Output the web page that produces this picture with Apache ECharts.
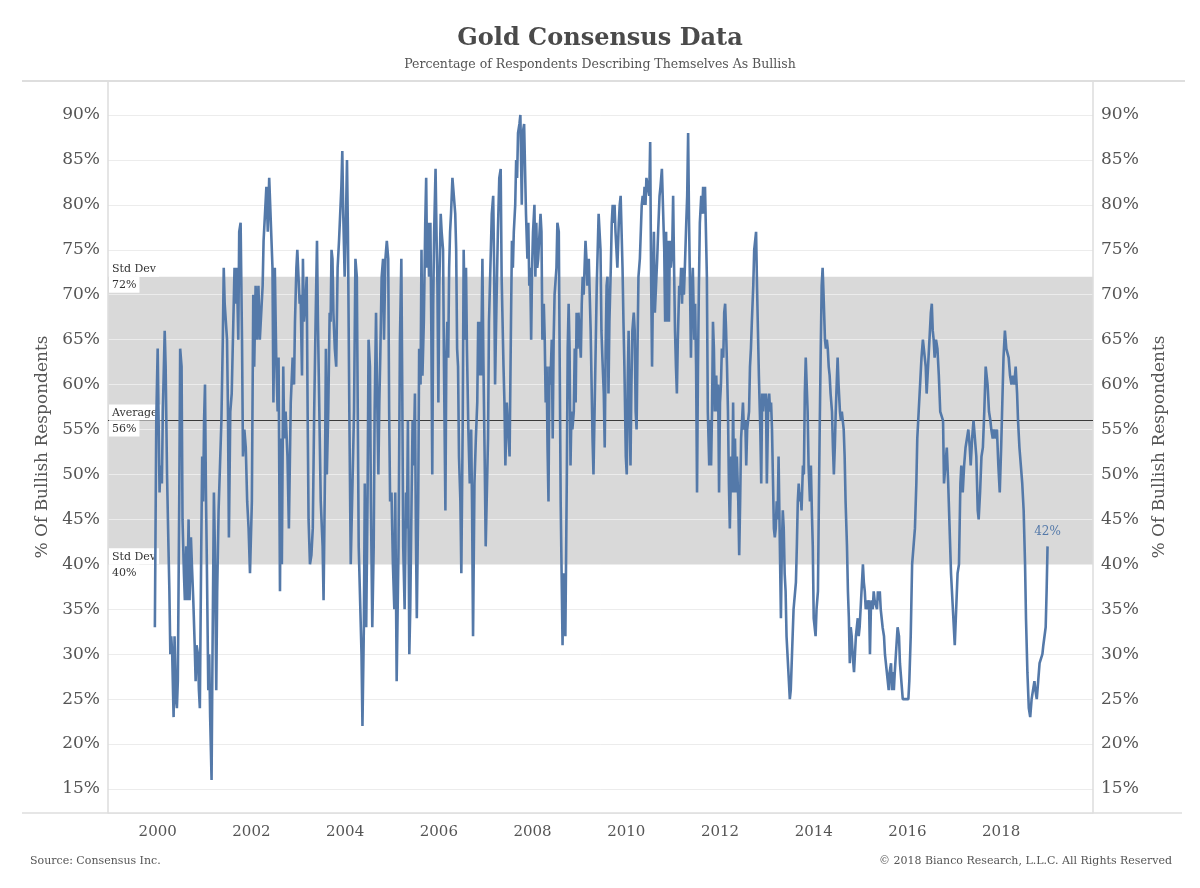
<!DOCTYPE html>
<html><head><meta charset="utf-8">
<script src="https://cdn.jsdelivr.net/npm/echarts/dist/echarts.min.js"></script>
<style>html,body{margin:0;padding:0;background:#fff}#c{width:1200px;height:888px}</style>
</head><body><div id="c"></div>
<script>
// ---- data (decimal year, % bullish) ----
const dates = [
1999.94,1999.97,2000.00,2000.02,2000.04,2000.06,2000.09,2000.11,2000.15,2000.17,2000.20,2000.23,2000.25,2000.27,2000.29,2000.31,2000.34,2000.36,2000.39,2000.41,2000.43,2000.46,2000.48,2000.51,2000.53,2000.56,2000.58,2000.61,2000.63,2000.66,2000.68,2000.71,2000.73,2000.76,2000.79,2000.81,2000.83,2000.86,2000.88,2000.90,2000.93,2000.95,2000.97,2000.99,
2001.01,2001.03,2001.05,2001.08,2001.10,2001.12,2001.15,2001.17,2001.20,2001.22,2001.25,2001.27,2001.30,2001.33,2001.36,2001.39,2001.41,2001.43,2001.45,2001.48,2001.50,2001.52,2001.55,2001.58,2001.61,2001.64,2001.67,2001.69,2001.72,2001.74,2001.77,2001.80,2001.82,2001.85,2001.88,2001.91,2001.94,2001.97,
2002.01,2002.04,2002.06,2002.09,2002.12,2002.15,2002.18,2002.21,2002.24,2002.26,2002.29,2002.32,2002.35,2002.38,2002.45,2002.47,2002.50,2002.53,2002.56,2002.58,2002.61,2002.63,2002.65,2002.68,2002.70,2002.73,2002.77,2002.80,2002.84,2002.88,2002.91,2002.93,2002.96,2002.98,
2003.01,2003.03,2003.05,2003.08,2003.10,2003.12,2003.15,2003.18,2003.20,2003.22,2003.25,2003.28,2003.31,2003.34,2003.37,2003.40,2003.42,2003.45,2003.48,2003.52,2003.54,2003.57,2003.59,2003.61,2003.64,2003.67,2003.69,2003.71,2003.73,2003.75,2003.78,2003.81,2003.84,2003.87,2003.89,2003.92,2003.94,2003.96,2003.99,
2004.02,2004.04,2004.06,2004.09,2004.12,2004.15,2004.17,2004.19,2004.22,2004.25,2004.27,2004.29,2004.32,2004.35,2004.37,2004.40,2004.42,2004.45,2004.48,2004.50,2004.53,2004.55,2004.58,2004.61,2004.63,2004.66,2004.68,2004.71,2004.73,2004.75,2004.78,2004.81,2004.83,2004.86,2004.89,2004.92,2004.94,2004.96,2004.99,
2005.02,2005.05,2005.07,2005.10,2005.14,2005.17,2005.20,2005.22,2005.24,2005.27,2005.30,2005.32,2005.34,2005.37,2005.39,2005.42,2005.44,2005.46,2005.49,2005.51,2005.53,2005.56,2005.58,2005.61,2005.63,2005.65,2005.68,2005.71,2005.73,2005.75,2005.77,2005.79,2005.82,2005.84,2005.86,2005.88,2005.90,2005.93,2005.95,2005.97,2005.99,
2006.01,2006.04,2006.06,2006.09,2006.11,2006.14,2006.16,2006.18,2006.20,2006.22,2006.24,2006.26,2006.29,2006.32,2006.35,2006.37,2006.39,2006.41,2006.43,2006.46,2006.48,2006.51,2006.53,2006.56,2006.58,2006.60,2006.63,2006.66,2006.69,2006.71,2006.73,2006.76,2006.79,2006.82,2006.84,2006.86,2006.88,2006.90,2006.93,2006.95,2006.98,
2007.00,2007.02,2007.05,2007.07,2007.10,2007.13,2007.16,2007.18,2007.20,2007.23,2007.26,2007.29,2007.32,2007.34,2007.36,2007.38,2007.40,2007.42,2007.45,2007.48,2007.51,2007.54,2007.56,2007.58,2007.60,2007.63,2007.65,2007.67,2007.69,2007.72,2007.74,2007.77,2007.79,2007.82,2007.84,2007.86,2007.89,2007.91,2007.93,2007.95,2007.97,2007.99,
2008.01,2008.04,2008.06,2008.08,2008.10,2008.12,2008.15,2008.17,2008.19,2008.21,2008.24,2008.26,2008.28,2008.30,2008.32,2008.34,2008.36,2008.38,2008.41,2008.43,2008.45,2008.47,2008.49,2008.51,2008.53,2008.56,2008.58,2008.60,2008.62,2008.64,2008.66,2008.68,2008.70,2008.73,2008.75,2008.77,2008.79,2008.81,2008.83,2008.85,2008.88,2008.90,2008.92,2008.94,2008.96,2008.98,
2009.00,2009.03,2009.05,2009.07,2009.09,2009.11,2009.13,2009.15,2009.17,2009.20,2009.22,2009.24,2009.26,2009.28,2009.30,2009.32,2009.35,2009.37,2009.39,2009.41,2009.43,2009.45,2009.47,2009.49,2009.52,2009.54,2009.56,2009.58,2009.60,2009.62,2009.64,2009.67,2009.69,2009.71,2009.73,2009.75,2009.77,2009.79,2009.81,2009.84,2009.86,2009.88,2009.90,2009.92,2009.94,2009.96,2009.99,
2010.01,2010.03,2010.05,2010.07,2010.09,2010.11,2010.13,2010.16,2010.18,2010.20,2010.22,2010.24,2010.26,2010.29,2010.31,2010.33,2010.35,2010.37,2010.39,2010.41,2010.43,2010.46,2010.49,2010.51,2010.53,2010.55,2010.57,2010.59,2010.61,2010.63,2010.66,2010.68,2010.71,2010.73,2010.76,2010.78,2010.81,2010.83,2010.85,2010.87,2010.89,2010.91,2010.93,2010.95,2010.98,
2011.00,2011.02,2011.04,2011.06,2011.08,2011.10,2011.13,2011.15,2011.17,2011.19,2011.21,2011.23,2011.25,2011.28,2011.30,2011.32,2011.34,2011.36,2011.38,2011.40,2011.42,2011.45,2011.47,2011.49,2011.51,2011.53,2011.55,2011.57,2011.60,2011.62,2011.64,2011.66,2011.68,2011.70,2011.72,2011.74,2011.77,2011.79,2011.81,2011.83,2011.85,2011.87,2011.89,2011.92,2011.94,2011.96,2011.98,
2012.00,2012.02,2012.04,2012.07,2012.09,2012.11,2012.13,2012.15,2012.17,2012.19,2012.21,2012.24,2012.26,2012.28,2012.30,2012.32,2012.34,2012.36,2012.39,2012.41,2012.43,2012.45,2012.47,2012.49,2012.51,2012.54,2012.56,2012.58,2012.60,2012.62,2012.64,2012.66,2012.68,2012.71,2012.73,2012.75,2012.77,2012.79,2012.81,2012.83,2012.86,2012.88,2012.90,2012.92,2012.94,2012.96,2012.98,
2013.00,2013.03,2013.05,2013.07,2013.09,2013.11,2013.15,2013.17,2013.19,2013.21,2013.23,2013.25,2013.28,2013.30,2013.32,2013.34,2013.36,2013.38,2013.40,2013.42,2013.45,2013.47,2013.49,2013.51,2013.53,2013.55,2013.57,2013.60,2013.62,2013.64,2013.66,2013.68,2013.70,2013.72,2013.74,2013.77,2013.79,2013.81,2013.83,2013.85,2013.87,2013.89,2013.92,2013.94,2013.96,2013.98,
2014.00,2014.02,2014.04,2014.06,2014.09,2014.11,2014.13,2014.15,2014.17,2014.19,2014.21,2014.24,2014.26,2014.28,2014.30,2014.32,2014.34,2014.36,2014.39,2014.41,2014.43,2014.45,2014.47,2014.49,2014.51,2014.53,2014.56,2014.58,2014.60,2014.62,2014.64,2014.66,2014.68,2014.71,2014.73,2014.75,2014.77,2014.79,2014.81,2014.83,2014.86,2014.88,2014.90,2014.92,2014.94,2014.96,2014.98,
2015.01,2015.03,2015.05,2015.07,2015.09,2015.11,2015.13,2015.15,2015.18,2015.20,2015.22,2015.24,2015.26,2015.28,2015.30,2015.33,2015.35,2015.37,2015.39,2015.41,2015.43,2015.45,2015.47,2015.50,2015.52,2015.54,2015.56,2015.58,2015.60,2015.62,2015.65,2015.67,2015.69,2015.71,2015.73,2015.79,2015.82,2015.84,2015.87,2015.90,2015.93,2015.96,2015.99,
2016.02,2016.04,2016.07,2016.10,2016.13,2016.16,2016.19,2016.21,2016.24,2016.27,2016.30,2016.33,2016.36,2016.39,2016.41,2016.44,2016.47,2016.50,2016.52,2016.54,2016.56,2016.58,2016.61,2016.64,2016.67,2016.70,2016.73,2016.76,2016.78,2016.81,2016.84,2016.87,2016.90,2016.93,2016.95,2016.98,
2017.01,2017.04,2017.07,2017.10,2017.13,2017.15,2017.18,2017.21,2017.24,2017.27,2017.30,2017.33,2017.35,2017.38,2017.41,2017.44,2017.47,2017.50,2017.52,2017.55,2017.58,2017.61,2017.64,2017.67,2017.70,2017.71,2017.74,2017.77,2017.79,2017.82,2017.85,2017.88,2017.91,2017.94,2017.97,
2018.00,2018.02,2018.05,2018.08,2018.11,2018.14,2018.16,2018.19,2018.22,2018.25,2018.28,2018.31,2018.34,2018.36,2018.39,2018.42,2018.45,2018.48,2018.51,2018.53,2018.56,2018.59,2018.62,2018.65,2018.68,2018.71,2018.73,2018.76,2018.79,2018.82,2018.85,2018.88,2018.90,2018.93,2018.95,2018.97,2018.99
];
const values = [
33,56,64,64,48,51,49,57,66,62,50,42,37,30,32,30,23,32,25,24,27,47,64,62,45,39,36,42,36,45,36,43,40,36,31,27,31,30,26,24,42,52,47,56,
60,48,40,26,30,23,16,30,48,42,26,37,46,51,56,65,73,69,69,65,57,43,57,59,66,73,69,73,65,77,78,65,52,55,53,47,44,39,
47,70,62,71,65,71,65,68,71,76,76,82,77,83,73,58,73,63,57,63,37,54,40,62,54,57,52,44,58,63,60,67,73,75,
75,69,70,61,74,67,69,72,57,45,40,41,44,57,67,76,67,57,47,42,36,50,64,50,57,68,67,75,74,68,64,62,73,76,76,82,86,79,72,
79,85,77,57,40,40,52,57,74,72,57,42,36,30,22,33,49,33,48,65,62,47,33,42,57,68,60,50,58,63,72,74,65,74,76,74,57,47,48,
40,35,48,27,42,65,74,59,42,35,48,44,56,30,35,48,56,51,59,44,34,47,64,60,75,61,67,78,83,73,78,72,78,66,50,69,77,84,77,71,58,
71,79,77,75,62,46,63,67,63,73,77,79,83,83,79,75,64,62,52,47,39,56,75,65,73,64,55,49,55,46,32,49,54,58,67,61,67,61,74,63,51,
42,42,54,67,73,79,81,73,60,69,77,83,84,72,72,62,58,51,58,58,52,67,76,73,77,80,85,83,88,89,90,80,88,89,89,79,74,78,71,73,65,73,
77,80,72,78,73,74,77,79,77,65,69,65,58,62,53,47,62,60,65,54,65,70,70,73,78,77,62,47,39,31,39,38,32,49,64,69,64,51,57,55,57,64,58,68,64,68,
68,63,69,72,70,73,76,74,71,74,70,66,60,54,50,56,65,71,75,79,77,75,66,63,59,53,64,71,72,59,67,73,78,80,78,80,77,75,73,78,80,81,81,73,67,62,52,
50,60,66,57,51,60,66,68,66,57,55,64,72,74,77,80,81,80,82,80,83,82,81,87,72,62,71,77,68,68,74,77,81,82,84,84,75,67,77,67,76,67,76,73,75,
81,73,66,62,59,65,71,70,73,69,73,70,73,78,81,88,78,71,63,70,73,65,69,62,48,62,71,78,81,79,82,79,82,82,72,57,51,56,51,57,67,64,57,61,57,60,48,
58,60,64,63,68,69,66,62,57,49,44,52,48,58,48,54,48,52,47,41,47,54,54,58,55,56,51,55,56,57,62,64,67,71,75,75,77,71,66,61,55,49,59,57,59,58,59,
49,58,59,57,58,55,44,43,44,47,45,52,52,34,42,46,44,39,37,32,29,27,25,26,29,32,35,35,38,42,47,49,47,48,46,51,50,59,63,63,57,51,47,51,46,42,
34,33,32,35,37,47,56,64,71,73,70,65,64,65,64,62,61,59,57,53,50,53,57,60,63,60,57,56,57,56,55,52,47,42,37,34,29,33,32,30,28,30,32,33,34,32,33,
36,38,40,38,37,35,36,35,36,30,35,36,35,37,36,36,35,37,36,37,35,34,33,32,30,29,28,27,26,28,29,26,28,26,28,33,32,29,27,25,25,25,25,
25,27,32,40,42,44,49,54,57,60,63,65,65,62,59,62,65,68,69,66,65,63,65,64,61,57,57,56,49,49,53,49,44,39,37,34,
31,35,39,40,49,51,48,51,53,54,55,53,51,54,56,54,52,46,45,48,52,53,57,62,62,60,57,56,55,54,55,54,55,51,48,
53,57,63,66,64,64,63,61,60,61,60,62,59,56,53,51,49,46,40,34,28,24,23,25,26,27,26,25,27,29,29,30,31,31,33,37,42
];
const yTickValues = [15,20,25,30,35,40,45,50,55,60,65,70,75,80,85,90];
const xTickYears = [2000,2002,2004,2006,2008,2010,2012,2014,2016,2018];
const stdDevLow = 40, stdDevHigh = 72, averageValue = 56;

const FONT = 'DejaVu Serif';
const TXT = '#555555';
const LINE = '#5479a9';

const n = Math.min(dates.length, values.length);
const seriesData = [];
for (let i = 0; i < n; i++) seriesData.push([dates[i], values[i]]);

const HIDDEN = {color: 'rgba(0,0,0,0)', width: 0};
const refLabel = (txt, pos) => ({
  show: true, position: pos, formatter: txt, color: '#333', fontFamily: FONT, fontSize: 11,
  backgroundColor: '#ffffff', padding: [3, 3, 2, 3], distance: [1, 0]
});

const yAxisBase = (pos) => ({
  type: 'value', position: pos, min: 12.33, max: 93.78, minInterval: 5, maxInterval: 5,
  z: 3,
  name: '% Of Bullish Respondents', nameLocation: 'middle', nameGap: pos === 'left' ? 56 : 58,
  nameTextStyle: {fontFamily: FONT, fontSize: 17, color: TXT},
  axisLine: {show: true, lineStyle: {color: '#dcdcdc', width: 1.5}},
  axisTick: {show: false},
  splitLine: {show: true, lineStyle: {color: '#ececec', width: 1}},
  axisLabel: {fontFamily: FONT, fontSize: 17, color: TXT, margin: 8,
    formatter: v => yTickValues.includes(Math.round(v * 100) / 100) ? v + '%' : ''}
});

const option = {
  animation: false,
  backgroundColor: '#ffffff',
  title: [
    {text: 'Gold Consensus Data', left: 'center', top: 22,
     textStyle: {fontFamily: FONT, fontWeight: 'bold', fontSize: 24, color: '#4a4a4a'}},
    {text: 'Percentage of Respondents Describing Themselves As Bullish', left: 'center', top: 53,
     textStyle: {fontFamily: FONT, fontWeight: 'normal', fontSize: 12.5, color: TXT}}
  ],
  grid: {left: 108, right: 107, top: 81, bottom: 75},
  xAxis: {
    type: 'value', min: 1998.94, max: 2019.96, minInterval: 2, maxInterval: 2,
    axisLine: {show: false}, axisTick: {show: false}, splitLine: {show: false},
    axisLabel: {fontFamily: FONT, fontSize: 15, color: TXT, margin: 12,
      formatter: v => xTickYears.includes(Math.round(v * 100) / 100) ? String(Math.round(v)) : ''}
  },
  yAxis: [yAxisBase('left'), yAxisBase('right')],
  graphic: [
    {type: 'line', shape: {x1: 22, y1: 81, x2: 1185, y2: 81}, style: {stroke: '#dedede', lineWidth: 2}, z: 10},
    {type: 'line', shape: {x1: 22, y1: 813, x2: 1182, y2: 813}, style: {stroke: '#dedede', lineWidth: 1.5}, z: 10},
    {type: 'text', left: 30, top: 856, style: {text: 'Source: Consensus Inc.', font: '11px "DejaVu Serif"', fill: TXT}},
    {type: 'text', right: 28, top: 856, style: {text: '\u00a9 2018 Bianco Research, L.L.C. All Rights Reserved', font: '11px "DejaVu Serif"', fill: TXT}}
  ],
  series: [
    {
      name: 'band', type: 'line', data: [], z: 1, silent: true,
      markArea: {silent: true, itemStyle: {color: '#d9d9d9'},
        data: [[{yAxis: stdDevLow}, {yAxis: stdDevHigh}]]}
    },
    {
      name: 'bullish', type: 'line', data: seriesData, z: 5, symbol: 'none', showSymbol: false,
      lineStyle: {color: LINE, width: 2.6}, itemStyle: {color: LINE}, silent: true,
      markPoint: {
        silent: true, symbol: 'circle', symbolSize: 1, itemStyle: {color: 'rgba(0,0,0,0)'},
        data: [{coord: [dates[n - 1], values[n - 1]],
          label: {show: true, position: 'top', distance: 8, formatter: values[n - 1] + '%',
                  color: LINE, fontFamily: FONT, fontSize: 12}}]
      }
    },
    {
      name: 'refs', type: 'line', data: [], z: 6, silent: true,
      markLine: {
        silent: true, symbol: 'none', animation: false,
        data: [
          {yAxis: averageValue, lineStyle: {color: '#3a3a3a', width: 1.2, type: 'solid'}, label: refLabel('Average', 'insideStartTop')},
          {yAxis: averageValue, lineStyle: HIDDEN, label: refLabel(averageValue + '%', 'insideStartBottom')},
          {yAxis: stdDevHigh, lineStyle: HIDDEN, label: refLabel('Std Dev', 'insideStartTop')},
          {yAxis: stdDevHigh, lineStyle: HIDDEN, label: refLabel(stdDevHigh + '%', 'insideStartBottom')},
          {yAxis: stdDevLow, lineStyle: HIDDEN, label: refLabel('Std Dev', 'insideStartTop')},
          {yAxis: stdDevLow, lineStyle: HIDDEN, label: refLabel(stdDevLow + '%', 'insideStartBottom')}
        ]
      }
    }
  ]
};
const chart = echarts.init(document.getElementById('c'));
chart.setOption(option);
</script></body></html>
